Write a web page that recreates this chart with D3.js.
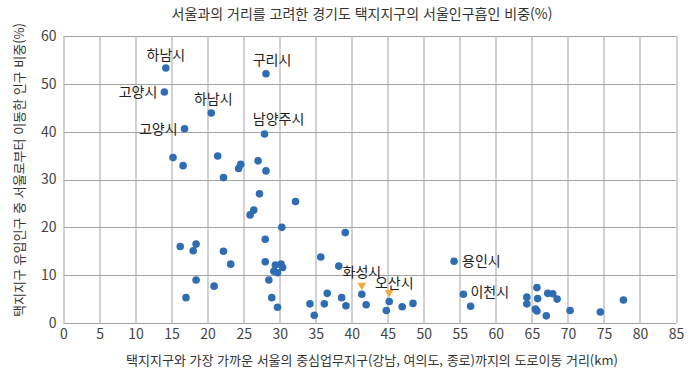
<!DOCTYPE html>
<html lang="ko">
  <head>
    <meta charset="UTF-8" />
    <title>서울인구흡인 비중</title>
    <style>
      body { margin: 0; background: #fff; }
      svg { display: block; font-family: "Noto Sans CJK KR", "Noto Sans", sans-serif; }
      .tick text { fill: #444; }
    </style>
  </head>
  <body>
    <div id="chart"></div>

    <script src="https://cdn.jsdelivr.net/npm/d3@7"></script>
    <script>

      // 택지지구별 거리(km)와 서울인구 유입 비중(%)
      var distance = [15.2, 16.6, 21.4, 22.2, 24.6, 24.3, 27.0, 28.1, 27.2, 32.2,
                      26.4, 25.9, 30.3, 28.0, 16.2, 18.4, 18.0, 22.2, 23.2, 28.0,
                      35.7, 38.2, 39.1, 29.4, 30.2, 30.4, 29.2, 29.7, 18.4, 20.9,
                      28.5, 17.0, 28.9, 29.7, 36.6, 34.2, 36.2, 34.8, 38.6, 39.2,
                      42.0, 44.8, 47.0, 48.5, 56.5, 65.7, 64.3, 64.3, 65.8, 65.5,
                      65.7, 67.0, 67.2, 67.9, 68.5, 70.3, 74.5, 77.7];
      var share = [34.6, 32.9, 34.9, 30.4, 33.2, 32.3, 33.9, 31.8, 27.0, 25.4,
                   23.6, 22.6, 20.0, 17.5, 16.0, 16.5, 15.1, 15.0, 12.3, 12.8,
                   13.8, 11.9, 18.9, 12.1, 12.3, 11.6, 10.8, 10.5, 9.0, 7.7,
                   9.0, 5.3, 5.3, 3.3, 6.2, 4.0, 4.0, 1.6, 5.3, 3.6,
                   3.8, 2.6, 3.4, 4.1, 3.5, 7.4, 5.4, 4.0, 5.1, 2.9,
                   2.5, 1.5, 6.2, 6.1, 5.0, 2.6, 2.3, 4.8];

      var namedTowns = ["하남시", "구리시", "고양시", "하남시", "고양시", "남양주시", "용인시", "이천시", "화성시", "오산시"];
      var namedDistance = [14.2, 28.1, 14.0, 20.5, 16.8, 27.9, 54.2, 55.5, 41.4, 45.2];
      var namedShare = [53.3, 52.1, 48.3, 43.9, 40.6, 39.5, 12.9, 6.0, 6.0, 4.5];

      var xTicks = [0, 5, 10, 15, 20, 25, 30, 35, 40, 45, 50, 55, 60, 65, 70, 75, 80, 85];
      var yTicks = [0, 10, 20, 30, 40, 50, 60];

      var chartTitle = "서울과의 거리를 고려한 경기도 택지지구의 서울인구흡인 비중(%)";
      var xTitle = "택지지구와 가장 가까운 서울의 중심업무지구(강남, 여의도, 종로)까지의 도로이동 거리(km)";
      var yTitle = "택지지구 유입인구 중 서울로부터 이동한 인구 비중(%)";

      // label placement around each named point (dx, dy, anchor), plus arrow flag
      var labelPlace = [
        { dx: 0, dy: -13, anchor: "middle" },
        { dx: 6, dy: -14, anchor: "middle" },
        { dx: -7, dy: 0, anchor: "end" },
        { dx: 2, dy: -14, anchor: "middle" },
        { dx: -7, dy: 0, anchor: "end" },
        { dx: 14, dy: -15, anchor: "middle" },
        { dx: 8, dy: 0, anchor: "start" },
        { dx: 7, dy: -2, anchor: "start" },
        { dx: 0, dy: -22, anchor: "middle", arrow: true },
        { dx: 5, dy: -18, anchor: "middle", arrow: true }
      ];

      var W = 700, H = 378;
      var margin = { top: 36, right: 24, bottom: 55, left: 63.5 };
      var w = W - margin.left - margin.right,
          h = H - margin.top - margin.bottom;

      var svg = d3.select("#chart").append("svg")
                  .attr("width", W)
                  .attr("height", H);

      var xScale = d3.scaleLinear().domain([0, 85]).range([0, w]);
      var yScale = d3.scaleLinear().domain([0, 60]).range([h, 0]);

      var g = svg.append("g")
                 .attr("transform", "translate(" + margin.left + "," + margin.top + ")");

      // grid
      g.append("g")
       .attr("class", "grid-x")
       .selectAll("line")
       .data(xTicks)
       .enter()
       .append("line")
       .attr("x1", function(d) { return Math.round(xScale(d)) + 0.5; })
       .attr("x2", function(d) { return Math.round(xScale(d)) + 0.5; })
       .attr("y1", 0)
       .attr("y2", h)
       .attr("stroke", "#a3a3a3")
       .attr("stroke-width", 1);

      g.append("g")
       .attr("class", "grid-y")
       .selectAll("line")
       .data(yTicks)
       .enter()
       .append("line")
       .attr("x1", 0)
       .attr("x2", w)
       .attr("y1", function(d) { return Math.round(yScale(d)) + 0.5; })
       .attr("y2", function(d) { return Math.round(yScale(d)) + 0.5; })
       .attr("stroke", "#a3a3a3")
       .attr("stroke-width", 1);

      // axes (labels only, lines come from the grid)
      var xAxis = d3.axisBottom(xScale).tickValues(xTicks).tickSize(0).tickPadding(6);
      var yAxis = d3.axisLeft(yScale).tickValues(yTicks).tickSize(0).tickPadding(7);

      g.append("g")
       .attr("class", "x-axis")
       .attr("transform", "translate(0," + h + ")")
       .call(xAxis)
       .call(function(s) { s.select(".domain").remove(); })
       .selectAll("text")
       .attr("font-size", 14)
       .attr("font-family", "'Noto Sans CJK KR', sans-serif");

      g.append("g")
       .attr("class", "y-axis")
       .call(yAxis)
       .call(function(s) { s.select(".domain").remove(); })
       .selectAll("text")
       .attr("font-size", 14)
       .attr("font-family", "'Noto Sans CJK KR', sans-serif");

      // points
      g.selectAll("circle.pt")
       .data(distance)
       .enter()
       .append("circle")
       .attr("class", "pt")
       .attr("cx", function(d) { return xScale(d); })
       .attr("cy", function(d, i) { return yScale(share[i]); })
       .attr("r", 3.8)
       .attr("fill", "#2f6db3");

      g.selectAll("circle.named")
       .data(namedDistance)
       .enter()
       .append("circle")
       .attr("class", "named")
       .attr("cx", function(d) { return xScale(d); })
       .attr("cy", function(d, i) { return yScale(namedShare[i]); })
       .attr("r", 3.8)
       .attr("fill", "#2f6db3");

      g.selectAll("text.name")
       .data(namedTowns)
       .enter()
       .append("text")
       .attr("class", "name")
       .attr("x", function(d, i) { return xScale(namedDistance[i]) + labelPlace[i].dx; })
       .attr("y", function(d, i) { return yScale(namedShare[i]) + labelPlace[i].dy; })
       .attr("dy", "0.35em")
       .attr("text-anchor", function(d, i) { return labelPlace[i].anchor; })
       .attr("font-size", 14)
       .attr("fill", "#222")
       .text(function(d) { return d; });

      // small orange pointers
      var tri = d3.symbol().type(d3.symbolTriangle).size(32);
      g.selectAll("path.pointer")
       .data(namedTowns.map(function(d, i) { return i; }).filter(function(i) { return labelPlace[i].arrow; }))
       .enter()
       .append("path")
       .attr("class", "pointer")
       .attr("d", tri)
       .attr("fill", "#f2a93b")
       .attr("transform", function(i) {
         return "translate(" + xScale(namedDistance[i]) + "," + (yScale(namedShare[i]) - 9) + ") rotate(180)";
       });

      // titles
      svg.append("text")
         .attr("x", 362)
         .attr("y", 14)
         .attr("dy", "0.35em")
         .attr("text-anchor", "middle")
         .attr("font-size", 14)
         .attr("fill", "#333")
         .text(chartTitle);

      svg.append("text")
         .attr("x", 372)
         .attr("y", 360)
         .attr("dy", "0.35em")
         .attr("text-anchor", "middle")
         .attr("font-size", 13)
         .attr("fill", "#333")
         .text(xTitle);

      svg.append("text")
         .attr("transform", "translate(19," + 170 + ")rotate(-90)")
         .attr("dy", "0.35em")
         .attr("text-anchor", "middle")
         .attr("font-size", 13)
         .attr("fill", "#333")
         .text(yTitle);

    </script>
  </body>
</html>
